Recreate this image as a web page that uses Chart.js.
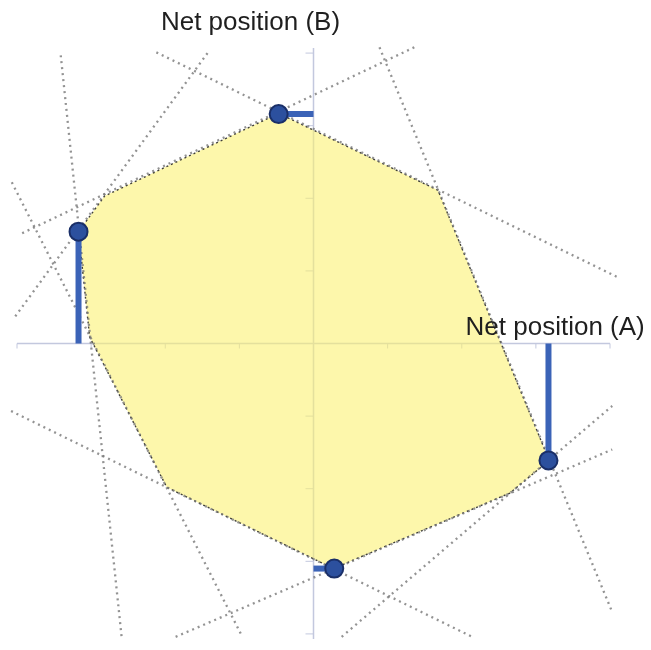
<!DOCTYPE html>
<html>
<head>
<meta charset="utf-8">
<script src="https://cdn.jsdelivr.net/npm/chart.js@4.4.1/dist/chart.umd.min.js"></script>
<style>
  html, body { margin: 0; padding: 0; background: #fff; overflow: hidden; }
  canvas { display: block; }
</style>
</head>
<body>
<canvas id="chart" width="651" height="650"></canvas>
<script>
// net positions (blue points) and the axis each one is projected onto
const netX = [-0.47, -3.17, 3.17, 0.28];
const netY = [3.16, 1.54, -1.61, -3.10];
const dropTo = ['x', 'y', 'y', 'x'];

// corners of the feasible region
const regionX = [-0.47, 1.68, 3.18, 2.65, 0.27, -1.98, -3.02, -3.17, -2.82];
const regionY = [3.17, 2.11, -1.61, -2.06, -3.10, -1.98, 0.09, 1.54, 2.03];

// constraint lines (start / end)
const lineX1 = [-2.12, 1.36, -1.43, -3.41, -4.07, -4.08, -1.86, 0.38, 0.89];
const lineY1 = [4.01, 4.08, 4.00, 3.97, 2.22, -0.93, -4.04, -4.04, 4.08];
const lineX2 = [4.11, -3.97, -4.04, -2.59, -0.96, 2.14, 4.03, 4.03, 4.03];
const lineY2 = [0.91, 1.50, 0.35, -4.03, -4.04, -4.04, -1.46, -0.86, -3.70];

const tickVals = [-4, -3, -2, -1, 1, 2, 3, 4];
const labelA = 'Net position (A)';
const labelB = 'Net position (B)';

const datasets = [];

datasets.push({
    label: 'region',
    data: regionX.map((x, i) => ({ x: x, y: regionY[i] })).concat([{ x: regionX[0], y: regionY[0] }]),
    showLine: true,
    borderColor: 'rgba(30, 30, 30, 0.85)',
    borderWidth: 1.4,
    borderDash: [2, 3],
    pointRadius: 0,
    order: 5,
    clip: false,
});

lineX1.forEach((x, i) => {
    datasets.push({
        label: 'constraint ' + i,
        data: [{ x: x, y: lineY1[i] }, { x: lineX2[i], y: lineY2[i] }],
        showLine: true,
        borderColor: 'rgba(120, 120, 120, 0.8)',
        borderWidth: 2.3,
        borderDash: [2, 4],
        pointRadius: 0,
        order: 4,
        clip: false,
    });
});

netX.forEach((x, i) => {
    const end = dropTo[i] === 'x' ? { x: 0, y: netY[i] } : { x: x, y: 0 };
    datasets.push({
        label: 'drop ' + i,
        data: [{ x: x, y: netY[i] }, end],
        showLine: true,
        borderColor: '#3b63b7',
        borderWidth: 6,
        pointRadius: 0,
        order: 2,
        clip: false,
    });
});

datasets.push({
    label: 'net position',
    data: netX.map((x, i) => ({ x: x, y: netY[i] })),
    pointRadius: 9,
    pointBackgroundColor: '#2c509e',
    pointBorderColor: '#1a2f68',
    pointBorderWidth: 2,
    order: 1,
    clip: false,
});

const axisColor = '#c3c8de';

// axes through the origin, placed with the chart's scales
const centreAxes = {
    id: 'centreAxes',
    beforeDatasetsDraw(chart) {
        const { ctx, scales: { x, y } } = chart;
        const x0 = x.getPixelForValue(0);
        const y0 = y.getPixelForValue(0);
        ctx.save();
        ctx.strokeStyle = axisColor;
        ctx.lineWidth = 1.5;
        ctx.beginPath();
        ctx.moveTo(x.getPixelForValue(x.min), y0);
        ctx.lineTo(x.getPixelForValue(x.max), y0);
        ctx.moveTo(x0, y.getPixelForValue(y.max));
        ctx.lineTo(x0, y.getPixelForValue(y.min));
        ctx.stroke();
        ctx.lineWidth = 1;
        ctx.beginPath();
        tickVals.forEach(v => {
            const px = x.getPixelForValue(v);
            ctx.moveTo(px, y0);
            ctx.lineTo(px, y0 + 5);
            const py = y.getPixelForValue(v);
            ctx.moveTo(x0, py);
            ctx.lineTo(x0 - 8, py);
        });
        ctx.stroke();
        ctx.restore();
    }
};

// yellow fill of the region, using the points placed by the chart
const regionFill = {
    id: 'regionFill',
    beforeDatasetsDraw(chart) {
        const meta = chart.getDatasetMeta(0);
        const ctx = chart.ctx;
        ctx.save();
        ctx.beginPath();
        meta.data.forEach((p, i) => i ? ctx.lineTo(p.x, p.y) : ctx.moveTo(p.x, p.y));
        ctx.closePath();
        ctx.fillStyle = 'rgba(252, 242, 110, 0.58)';
        ctx.fill();
        ctx.restore();
    }
};

const axisLabels = {
    id: 'axisLabels',
    afterDraw(chart) {
        const { ctx, scales: { x, y } } = chart;
        ctx.save();
        ctx.font = '26px "Liberation Sans", Arial, sans-serif';
        ctx.fillStyle = '#1f1f1f';
        ctx.textAlign = 'center';
        ctx.textBaseline = 'middle';
        ctx.fillText(labelB, x.getPixelForValue(-0.85), chart.chartArea.top - 25);
        ctx.fillText(labelA, x.getPixelForValue(3.26), y.getPixelForValue(0.22));
        ctx.restore();
    }
};

new Chart(document.getElementById('chart'), {
    type: 'scatter',
    data: { datasets: datasets },
    options: {
        responsive: false,
        animation: false,
        events: [],
        layout: { padding: { left: 17, right: 41, top: 48, bottom: 0 } },
        plugins: {
            legend: { display: false },
            tooltip: { enabled: false },
        },
        scales: {
            x: { type: 'linear', min: -4, max: 4, display: false },
            y: { type: 'linear', min: -4.07, max: 4.07, display: false }
        }
    },
    plugins: [centreAxes, regionFill, axisLabels]
});
</script>
</body>
</html>
